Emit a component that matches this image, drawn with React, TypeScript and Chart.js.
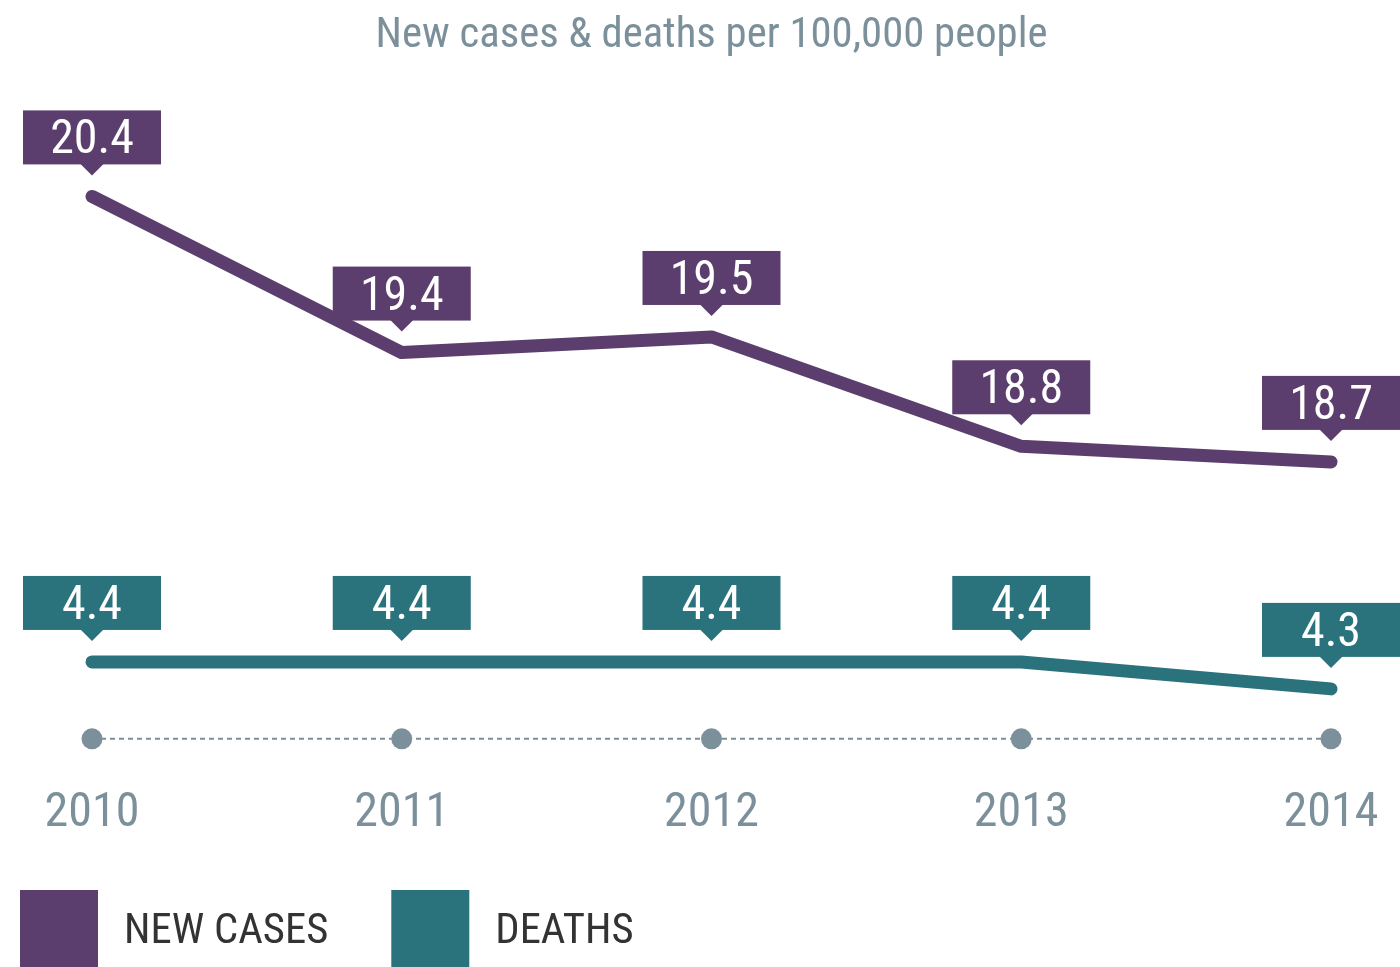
import React, { useEffect, useRef } from "react";
import { Chart, registerables } from "chart.js";

Chart.register(...registerables);

const years = ["2010", "2011", "2012", "2013", "2014"];
const newCases = [20.4, 19.4, 19.5, 18.8, 18.7];
const deaths = [4.4, 4.4, 4.4, 4.4, 4.3];
const seriesLabels = ["NEW CASES", "DEATHS"];
const title = "New cases & deaths per 100,000 people";

const PURPLE = "#5b3e6e";
const TEAL = "#2a727c";
const GRAY = "#7b909b";
const FONT = "'Roboto Condensed', Roboto, sans-serif";

const calloutPlugin = {
  id: "callouts",
  afterDatasetsDraw(chart: any) {
    const ctx = chart.ctx;
    chart.data.datasets.forEach((ds: any, di: number) => {
      const meta = chart.getDatasetMeta(di);
      meta.data.forEach((pt: any, i: number) => {
        const x = pt.x;
        const y = pt.y;
        const w = 138;
        const h = 54;
        const bottom = y - 32;
        const top = bottom - h;
        ctx.save();
        ctx.fillStyle = ds.borderColor;
        ctx.fillRect(x - w / 2, top, w, h);
        ctx.beginPath();
        ctx.moveTo(x - 12, bottom - 1);
        ctx.lineTo(x + 12, bottom - 1);
        ctx.lineTo(x, bottom + 11);
        ctx.closePath();
        ctx.fill();
        ctx.fillStyle = "#ffffff";
        ctx.font = `48px ${FONT}`;
        ctx.textAlign = "center";
        ctx.textBaseline = "alphabetic";
        ctx.fillText(Number(ds.data[i]).toFixed(1), x, bottom - 11);
        ctx.restore();
      });
    });
  },
};

const axisDotsPlugin = {
  id: "axisDots",
  afterDraw(chart: any) {
    const ctx = chart.ctx;
    const xs = chart.scales.x;
    const yPos = chart.chartArea.bottom;
    const x0 = xs.getPixelForValue(0);
    const x1 = xs.getPixelForValue(years.length - 1);
    ctx.save();
    ctx.strokeStyle = GRAY;
    ctx.lineWidth = 2;
    ctx.setLineDash([5, 4]);
    ctx.beginPath();
    ctx.moveTo(x0, yPos);
    ctx.lineTo(x1, yPos);
    ctx.stroke();
    ctx.setLineDash([]);
    ctx.fillStyle = GRAY;
    years.forEach((_, i) => {
      ctx.beginPath();
      ctx.arc(xs.getPixelForValue(i), yPos, 10.5, 0, Math.PI * 2);
      ctx.fill();
    });
    ctx.restore();
  },
};

const legendPlugin = {
  id: "customLegend",
  afterDraw(chart: any) {
    const ctx = chart.ctx;
    ctx.save();
    ctx.font = `42.7px ${FONT}`;
    ctx.textBaseline = "alphabetic";
    ctx.textAlign = "left";
    let x = 20;
    chart.data.datasets.forEach((ds: any) => {
      ctx.fillStyle = ds.borderColor;
      ctx.fillRect(x, 890, 78, 77);
      const tx = x + 78 + 26;
      ctx.fillStyle = "#333333";
      ctx.fillText(ds.label, tx, 943);
      x = tx + ctx.measureText(ds.label).width + 63;
    });
    ctx.restore();
  },
};

export default function App() {
  const ref = useRef<HTMLCanvasElement>(null);
  useEffect(() => {
    const chart = new Chart(ref.current!, {
      type: "line",
      data: {
        labels: years,
        datasets: [
          {
            label: seriesLabels[0],
            data: newCases,
            borderColor: PURPLE,
            backgroundColor: PURPLE,
            borderWidth: 13,
            borderCapStyle: "round",
            borderJoinStyle: "round",
            pointRadius: 0,
            tension: 0,
            yAxisID: "y",
            clip: false,
          },
          {
            label: seriesLabels[1],
            data: deaths,
            borderColor: TEAL,
            backgroundColor: TEAL,
            borderWidth: 13,
            borderCapStyle: "round",
            borderJoinStyle: "round",
            pointRadius: 0,
            tension: 0,
            yAxisID: "y2",
            clip: false,
          },
        ],
      },
      options: {
        animation: false,
        responsive: false,
        devicePixelRatio: 1,
        layout: { padding: { left: 92, right: 69, top: 0, bottom: 78.6 } },
        plugins: {
          legend: { display: false },
          tooltip: { enabled: false },
          title: {
            display: true,
            text: title,
            color: GRAY,
            font: { family: FONT, size: 42.7, weight: "normal", lineHeight: 1.2 },
            padding: { top: 11, bottom: 37.8 },
          },
        },
        scales: {
          x: {
            type: "category",
            offset: false,
            grid: { display: false, drawTicks: false },
            border: { display: false },
            ticks: {
              color: GRAY,
              padding: 46,
              font: { family: FONT, size: 48, lineHeight: 1.2 },
              maxRotation: 0,
            },
            afterFit: (scale: any) => {
              scale.paddingLeft = 0;
              scale.paddingRight = 0;
            },
          },
          y: { display: false, min: 16.927, max: 21.017 },
          y2: { display: false, min: 4.1148, max: 6.485 },
        },
      },
      plugins: [calloutPlugin, axisDotsPlugin, legendPlugin],
    } as any);
    return () => chart.destroy();
  }, []);
  return (
    <div style={{ position: "absolute", left: 0, top: 0, width: 1400, height: 967 }}>
      <canvas ref={ref} width={1400} height={967} style={{ display: "block" }} />
    </div>
  );
}
